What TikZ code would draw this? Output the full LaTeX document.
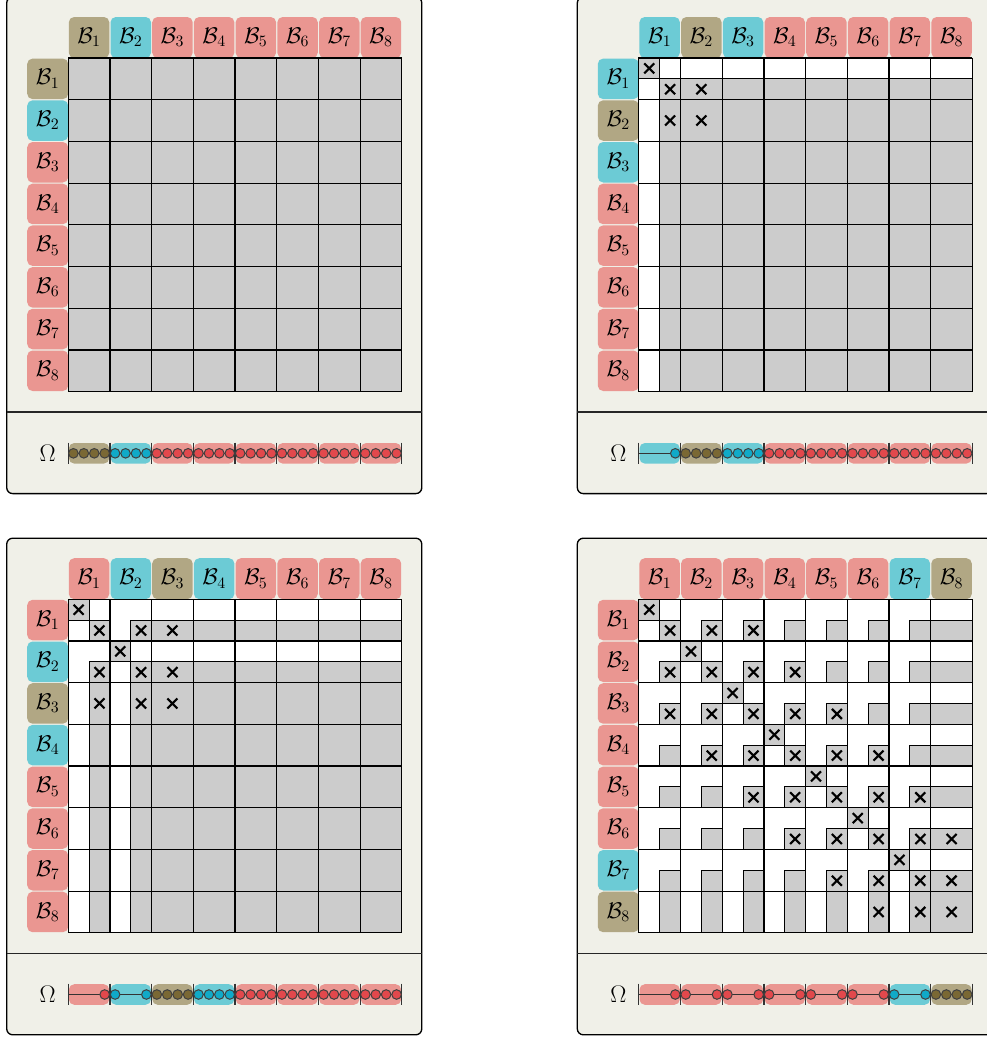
\RequirePackage{fix-cm}
\documentclass[tikz,border=0pt]{standalone}
\definecolor{panelbg}{RGB}{240,240,232}
\definecolor{cellgray}{RGB}{204,204,204}
\definecolor{Ltan}{RGB}{177,167,132}
\definecolor{Lcyan}{RGB}{108,203,213}
\definecolor{Lred}{RGB}{234,150,145}
\definecolor{Dtan}{RGB}{122,104,52}
\definecolor{Dcyan}{RGB}{16,170,200}
\definecolor{Dred}{RGB}{226,72,76}
\tikzset{
 panelbox/.style={draw=black,line width=1pt,fill=panelbg,rounded corners=4.5pt},
 sepline/.style={draw=black!85,line width=0.9pt},
 graycell/.style={fill=cellgray,draw=black,line width=0.8pt},
 gridline/.style={draw=black,line width=0.9pt},
 crossmark/.style={draw=black,line width=1.6pt},
 chain/.style={draw=black!80,line width=0.7pt},
 tickmark/.style={draw=black!80,line width=0.9pt},
 dof/.style={draw=black!75,line width=0.75pt},
 lbl/.style={inner sep=0pt,font=\fontsize{17}{20}\selectfont},
 omlbl/.style={inner sep=0pt,font=\fontsize{18}{21}\selectfont},
 lblbox/.style={rounded corners=4pt},
}
\def\blk{41.7}
\def\cr{5}
% #1 X0, #2 Y0, #3 list color/mode, #4 k, #5 crosses, #6 name prefix
\newcommand\drawpanel[6]{%
\begin{scope}
\pgfmathsetmacro\Xo{#1}\pgfmathsetmacro\Yo{#2}
\def\kk{#4}
\pgfmathsetmacro\Yc{\Yo+8*\blk+61.7}
\path[panelbox] (\Xo-61.5,\Yo-61) rectangle (\Xo+8*\blk+20,\Yo+8*\blk+102);
\draw[sepline] (\Xo-61.5,\Yo+8*\blk+20.3) -- (\Xo+8*\blk+20,\Yo+8*\blk+20.3);
% labels
\foreach \c/\md [count=\i] in {#3}{
  \fill[L\c,lblbox] (\Xo+\i*\blk-\blk+0.6,\Yo-41) rectangle (\Xo+\i*\blk-0.6,\Yo);
  \node[lbl] (#6t\i) at (\Xo+\i*\blk-0.5*\blk,\Yo-20.5) {$\mathcal{B}_{\i}$};
  \fill[L\c,lblbox] (\Xo-41,\Yo+\i*\blk-\blk+0.6) rectangle (\Xo,\Yo+\i*\blk-0.6);
  \node[lbl] (#6l\i) at (\Xo-20.5,\Yo+\i*\blk-0.5*\blk) {$\mathcal{B}_{\i}$};
}
% matrix
\fill[white] (\Xo,\Yo) rectangle (\Xo+8*\blk,\Yo+8*\blk);
\foreach \i in {1,...,8}{
 \foreach \j in {1,...,8}{
  \pgfmathsetmacro\ya{\Yo+(\i-1)*\blk+(\i<=\kk)*0.5*\blk}
  \pgfmathsetmacro\xa{\Xo+(\j-1)*\blk+(\j<=\kk)*0.5*\blk}
  \filldraw[graycell] (\xa,\ya) rectangle (\Xo+\j*\blk,\Yo+\i*\blk);
 }}
\ifnum\kk>0
\foreach \i in {1,...,\kk}{
  \pgfmathsetmacro\da{(\i-1)*\blk}
  \filldraw[graycell] (\Xo+\da,\Yo+\da) rectangle (\Xo+\da+0.5*\blk,\Yo+\da+0.5*\blk);
  \pgfmathsetmacro\dc{(\i-0.75)*\blk}
  \draw[crossmark] (\Xo+\dc-\cr,\Yo+\dc-\cr) -- (\Xo+\dc+\cr,\Yo+\dc+\cr)
                   (\Xo+\dc-\cr,\Yo+\dc+\cr) -- (\Xo+\dc+\cr,\Yo+\dc-\cr);
}
\fi
\foreach \m in {0,...,8}{
  \draw[gridline] (\Xo+\m*\blk,\Yo) -- (\Xo+\m*\blk,\Yo+8*\blk);
  \draw[gridline] (\Xo,\Yo+\m*\blk) -- (\Xo+8*\blk,\Yo+\m*\blk);
}
\def\crosslist{#5}
\ifx\crosslist\empty\else
\foreach \i/\j in \crosslist{
  \pgfmathsetmacro\cy{\Yo+(\i-0.5)*\blk+(\i<=\kk)*0.25*\blk}
  \pgfmathsetmacro\cx{\Xo+(\j-0.5)*\blk+(\j<=\kk)*0.25*\blk}
  \draw[crossmark] (\cx-\cr,\cy-\cr) -- (\cx+\cr,\cy+\cr)
                   (\cx-\cr,\cy+\cr) -- (\cx+\cr,\cy-\cr);
}
\fi
% Omega row
\node[omlbl] (#6om) at (\Xo-20.5,\Yc) {$\Omega$};
\foreach \c/\md [count=\i] in {#3}{
  \fill[L\c,lblbox] (\Xo+\i*\blk-\blk+0.7,\Yc-10.3) rectangle (\Xo+\i*\blk-0.7,\Yc+10.3);
}
\draw[chain] (\Xo,\Yc) -- (\Xo+8*\blk,\Yc);
\foreach \m in {0,...,8}{
  \draw[tickmark] (\Xo+\m*\blk,\Yc-10.8) -- (\Xo+\m*\blk,\Yc+10.8);
}
\foreach \c/\md [count=\i] in {#3}{
  \foreach \q in {0,...,3}{
    \pgfmathtruncatemacro\show{(\md==0)||(\q==3)||((\md==2)&&(\q==0))}
    \ifnum\show=1
      \filldraw[dof,fill=D\c] (\Xo+\i*\blk-\blk+\q*\blk/4+\blk/8,\Yc) circle[radius=3.6pt];
    \fi
  }
}
\end{scope}
}
\begin{document}
\begin{tikzpicture}[x=0.75pt,y=-0.75pt]
\clip (0,0) rectangle (987,1040);
\fill[white] (0,0) rectangle (987,1040);
\drawpanel{68.2}{58}{tan/0,cyan/0,red/0,red/0,red/0,red/0,red/0,red/0}{0}{}{pa}
\drawpanel{638.8}{58}{cyan/1,tan/0,cyan/0,red/0,red/0,red/0,red/0,red/0}{1}{1/1,1/2,2/1,2/2}{pb}
\drawpanel{68.2}{599.2}{red/1,cyan/2,tan/0,cyan/0,red/0,red/0,red/0,red/0}{2}{1/1,1/2,1/3,2/1,2/2,2/3,3/1,3/2,3/3}{pc}
\drawpanel{638.8}{599.2}{red/1,red/2,red/2,red/2,red/2,red/2,cyan/2,tan/0}{7}{1/1,1/2,1/3,2/1,2/2,2/3,2/4,3/1,3/2,3/3,3/4,3/5,4/2,4/3,4/4,4/5,4/6,5/3,5/4,5/5,5/6,5/7,6/4,6/5,6/6,6/7,6/8,7/5,7/6,7/7,7/8,8/6,8/7,8/8}{pd}
\end{tikzpicture}
\end{document}
